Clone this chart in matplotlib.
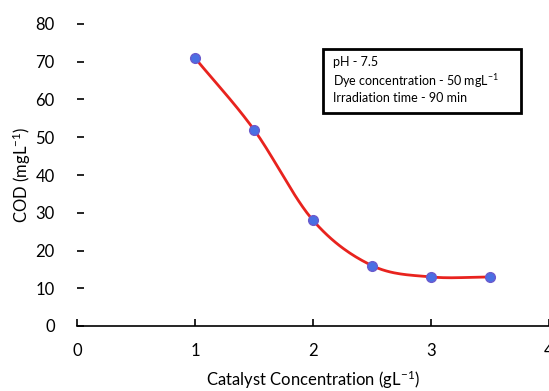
import numpy as np
import matplotlib
matplotlib.use("Agg")
import matplotlib.pyplot as plt
from matplotlib.patches import Rectangle

conc = [1.0, 1.5, 2.0, 2.5, 3.0, 3.5]
cod = [71, 52, 28, 16, 13, 13]
xticks = [0, 1, 2, 3, 4]
yticks = [0, 10, 20, 30, 40, 50, 60, 70, 80]
info_lines = ['pH - 7.5', 'Dye concentration - 50 mgL$^{-1}$', 'Irradiation time - 90 min']

plt.rcParams['font.family'] = ['Lato', 'DejaVu Sans']
plt.rcParams['mathtext.fontset'] = 'custom'
plt.rcParams['mathtext.rm'] = 'Lato'
plt.rcParams['mathtext.it'] = 'Lato'

def catmull_rom(x, y, n=30):
    x = np.asarray(x, float); y = np.asarray(y, float)
    px = np.concatenate([[2*x[0]-x[1]], x, [2*x[-1]-x[-2]]])
    py = np.concatenate([[2*y[0]-y[1]], y, [2*y[-1]-y[-2]]])
    xs, ys = [], []
    t = np.linspace(0, 1, n)
    for i in range(1, len(px)-2):
        p0, p1, p2, p3 = [np.array([px[j], py[j]]) for j in (i-1, i, i+1, i+2)]
        for tt in t:
            pt = 0.5*((2*p1) + (-p0+p2)*tt + (2*p0-5*p1+4*p2-p3)*tt**2 + (-p0+3*p1-3*p2+p3)*tt**3)
            xs.append(pt[0]); ys.append(pt[1])
    return xs, ys

fig = plt.figure(figsize=(5.49, 3.91), dpi=100)
ax = fig.add_axes([77/549, 1-326/391, 1-77/549, (326-24)/391])
sx, sy = catmull_rom(conc, cod)
ax.plot(sx, sy, color='#E8231E', lw=2.0, zorder=2)
ax.plot(conc, cod, 'o', color='#4A6FE3', mec='#6A5ACD', ms=7, zorder=3, clip_on=False)
ax.set_xlim(0, 4)
ax.set_ylim(0, 80)
ax.set_xticks(xticks)
ax.set_yticks(yticks)
for s in ['top', 'right', 'left']:
    ax.spines[s].set_visible(False)
ax.spines['bottom'].set_linewidth(1.2)
ax.tick_params(axis='y', direction='in', length=5, pad=16, labelsize=12, width=1.2)
ax.tick_params(axis='x', direction='in', length=5, pad=12, labelsize=12, width=1.2)
ax.set_xlabel('Catalyst Concentration (gL$^{-1}$)', fontsize=12, labelpad=7)
ax.set_ylabel('COD (mgL$^{-1}$)', fontsize=12, labelpad=2)

ax.add_patch(Rectangle((0.521, 0.705), 0.4195, 0.212, transform=ax.transAxes,
                       fc='white', ec='black', lw=2.0, zorder=4))
ax.text(0.542, 0.893, '\n'.join(info_lines), transform=ax.transAxes,
        fontsize=9, va='top', ha='left', linespacing=1.25, zorder=5)
fig.savefig('out.png', dpi=100)
